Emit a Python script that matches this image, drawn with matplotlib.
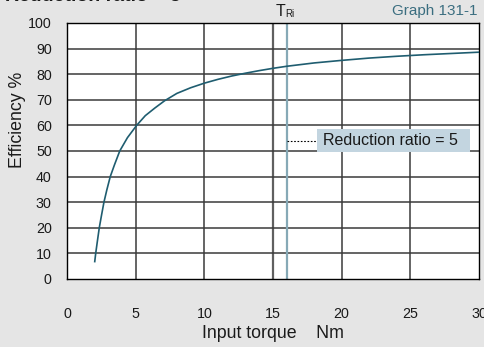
import matplotlib.pyplot as plt
from matplotlib.patches import Rectangle

plt.rcParams['font.family'] = ['Liberation Sans', 'DejaVu Sans']

# efficiency curve, reduction ratio 5
torque = [2.02, 2.09, 2.2, 2.35, 2.5, 2.69, 2.9, 3.15, 3.45, 3.84, 4.4,
          5.07, 5.7, 6.4, 7.1, 8.0, 9.0, 10.0, 11.0, 12.0, 13.0, 14.0,
          15.0, 16.0, 18.0, 20.0, 22.0, 24.0, 26.0, 28.0, 30.0]
efficiency = [6.8, 10, 14.3, 20, 24.5, 30, 34.8, 40, 44.5, 50, 55.2,
              60, 63.8, 66.8, 69.6, 72.5, 74.7, 76.5, 78.0, 79.3, 80.4, 81.4,
              82.3, 83.1, 84.4, 85.4, 86.3, 87.0, 87.6, 88.1, 88.6]

t_ri = 16.0
x_ticks = [0, 5, 10, 15, 20, 25, 30]
y_ticks = [0, 10, 20, 30, 40, 50, 60, 70, 80, 90, 100]

fig = plt.figure(figsize=(4.84, 3.47), dpi=100, facecolor='#e5e5e5')
ax = fig.add_axes([67 / 484, 1 - 279 / 347, 412 / 484, 256 / 347])
ax.set_facecolor('white')
ax.set_xlim(0, 30)
ax.set_ylim(0, 100)

# grid
for x in x_ticks[1:-1]:
    lw = 1.6 if x == 15 else 1.1
    col = '#606060' if x == 15 else '#3a3a3a'
    ax.axvline(x, color=col, lw=lw, zorder=1)
for y in y_ticks[1:-1]:
    ax.axhline(y, color='#3a3a3a', lw=1.1, zorder=1)

ax.axvline(t_ri, color='#86a9b6', lw=1.6, zorder=2)
ax.plot(torque, efficiency, color='#1f5d70', lw=1.2, zorder=3)

# label box
ax.plot([t_ri, 18.2], [54, 54], color='black', lw=0.8, ls=(0, (1.5, 1.5)), zorder=3)
ax.add_patch(Rectangle((18.2, 49.7), 11.15, 8.9, facecolor='#c3d5e0',
                       edgecolor='none', zorder=3))
ax.text(18.65, 54.2, 'Reduction ratio = 5', fontsize=11.5, va='center',
        ha='left', color='#1a1a1a', zorder=4)

for s in ax.spines.values():
    s.set_color('black')
    s.set_linewidth(1.0)

ax.set_xticks(x_ticks)
ax.set_yticks(y_ticks)
ax.tick_params(length=0, labelsize=10.3, colors='#1a1a1a')
ax.tick_params(axis='x', pad=20)
ax.tick_params(axis='y', pad=11)
ax.set_xlabel('Input torque    Nm', fontsize=12.8, color='#1a1a1a', va='top')
ax.set_ylabel('Efficiency %', fontsize=12.8, color='#1a1a1a')
ax.xaxis.set_label_coords(0.5, -0.18)
ax.yaxis.set_label_coords(-0.1, 0.62)

fig.text(5 / 484, 1 - 1 / 347, 'Reduction ratio = 5', fontsize=14,
         fontweight='bold', va='baseline', ha='left', color='#1a1a1a')
fig.text(478 / 484, 1 - 11 / 347, 'Graph 131-1', fontsize=11,
         va='center', ha='right', color='#3b6e80')
fig.text(285 / 484, 1 - 11 / 347, 'T', fontsize=11.5, va='center',
         ha='right', color='#1a1a1a')
fig.text(285.5 / 484, 1 - 14 / 347, 'Ri', fontsize=7, va='center',
         ha='left', color='#1a1a1a')

fig.savefig('out.png', dpi=100, facecolor=fig.get_facecolor())
